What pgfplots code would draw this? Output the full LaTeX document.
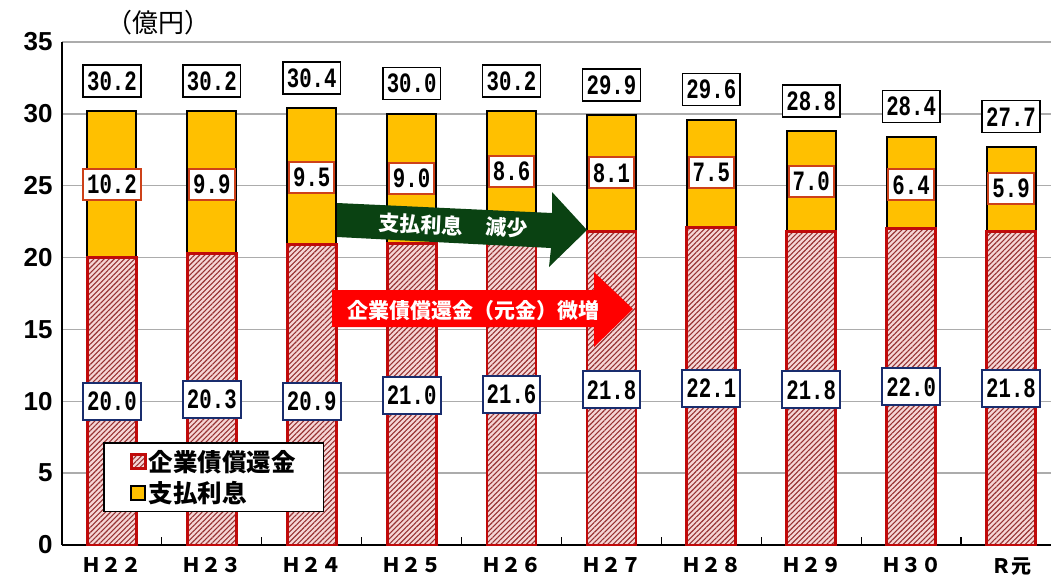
\documentclass[border=0pt]{standalone}
\usepackage{fontspec}
\setmainfont{Liberation Sans}
\newfontfamily\jp{Noto Sans CJK JP}
\newfontfamily\num{Liberation Mono}[FakeStretch=0.74]
\usepackage{pgfplots}
\usepackage{pgfplotstable}
\pgfplotsset{compat=1.18}
\usetikzlibrary{patterns.meta}

\definecolor{barY}{RGB}{255,192,0}
\definecolor{barR}{RGB}{192,10,10}
\definecolor{pinkbg}{RGB}{246,214,214}
\definecolor{hatch}{RGB}{150,50,50}
\definecolor{intBox}{RGB}{205,65,25}
\definecolor{prinBox}{RGB}{25,45,110}
\definecolor{arrG}{RGB}{10,66,18}

% label positions (centre of each box) and texts
\pgfplotstableread{
x ytot ltot yint lint yprin lprin
0 32.3 30.2 25.10 10.2 10.00 20.0
1 32.3 30.2 25.10 9.9  10.15 20.3
2 32.5 30.4 25.60 9.5  10.00 20.9
3 32.1 30.0 25.50 9.0  10.40 21.0
4 32.3 30.2 26.00 8.6  10.50 21.6
5 32.0 29.9 25.90 8.1  10.80 21.8
6 31.7 29.6 25.90 7.5  10.90 22.1
7 30.9 28.8 25.30 7.0  10.80 21.8
8 30.5 28.4 25.05 6.4  11.00 22.0
9 29.8 27.7 24.80 5.9  10.90 21.8
}\labels

\begin{document}
\begin{tikzpicture}
\begin{axis}[
  scale only axis, width=989pt, height=503pt,
  xmin=-0.5, xmax=9.4, ymin=0, ymax=35,
  ybar stacked, bar width=49pt,
  axis x line*=bottom, axis y line*=left,
  axis line style={black, line width=2.2pt},
  xtick={0,...,9},
  xticklabels={Ｈ２２,Ｈ２３,Ｈ２４,Ｈ２５,Ｈ２６,Ｈ２７,Ｈ２８,Ｈ２９,Ｈ３０,Ｒ元},
  minor xtick={0.5,1.5,...,8.5},
  ytick={0,5,...,35},
  major tick length=0pt, minor tick length=8pt, tick align=inside,
  minor tick style={black, line width=1.2pt},
  ymajorgrids, grid style={color=gray!65, line width=1.5pt},
  /pgf/number format/assume math mode=true,
  x tick label style={font=\jp\bfseries\fontsize{20}{21}\selectfont, yshift=-9pt},
  y tick label style={font=\bfseries\fontsize{26}{28}\selectfont, xshift=-6pt},
  clip=false,
  legend cell align=left,
  legend image code/.code={\draw[#1] (0pt,-7pt) rectangle (14pt,7pt);},
  legend style={at={(0.0415,0.0656)}, anchor=south west, draw=black,
    line width=1.5pt, fill=white, font=\jp\bfseries\fontsize{24.5}{26}\selectfont,
    inner xsep=26pt, inner ysep=5pt, row sep=5pt,
    /tikz/every even column/.append style={column sep=4pt}},
]
\addplot[fill=pinkbg, draw=barR, line width=2.8pt,
  postaction={pattern={Lines[angle=45,distance=3.6pt,line width=1.1pt]}, pattern color=hatch}]
  coordinates {(0,20.0) (1,20.3) (2,20.9) (3,21.0) (4,21.6) (5,21.8) (6,22.1) (7,21.8) (8,22.0) (9,21.8)};
\addplot[fill=barY, draw=black, line width=2pt]
  coordinates {(0,10.2) (1,9.9) (2,9.5) (3,9.0) (4,8.6) (5,8.1) (6,7.5) (7,7.0) (8,6.4) (9,5.9)};
\legend{企業債償還金, 支払利息}
\coordinate (O) at (axis cs:-0.5,0);
\end{axis}

\begin{axis}[
  scale only axis, width=989pt, height=503pt,
  xmin=-0.5, xmax=9.4, ymin=0, ymax=35,
  hide axis, clip=false,
  point meta=explicit symbolic,
]
\addplot[only marks, mark=none, nodes near coords,
  every node near coord/.append style={anchor=center, font=\num\bfseries\fontsize{28}{30}\selectfont,
    draw=black, line width=1.5pt, fill=white, inner xsep=4pt, inner ysep=2pt, minimum height=32pt}]
  table[x=x, y=ytot, meta=ltot] {\labels};
\addplot[only marks, mark=none, nodes near coords,
  every node near coord/.append style={anchor=center, font=\num\bfseries\fontsize{28}{30}\selectfont,
    draw=intBox, line width=2pt, fill=white, inner xsep=4pt, inner ysep=2pt, minimum height=31pt}]
  table[x=x, y=yint, meta=lint] {\labels};
\addplot[only marks, mark=none, nodes near coords,
  every node near coord/.append style={anchor=center, font=\num\bfseries\fontsize{28}{30}\selectfont,
    draw=prinBox, line width=2pt, fill=white, inner xsep=4pt, inner ysep=2pt, minimum height=37pt}]
  table[x=x, y=yprin, meta=lprin] {\labels};
\end{axis}

\begin{scope}[shift={(O)}, xshift=-62pt, yshift=545pt, x=1pt, y=-1pt]
  \fill[arrG] (337,203) -- (552,213) -- (552,192) -- (587,230) -- (549,267) -- (551,248) -- (337,237) -- cycle;
  \node[rotate=-2.7, text=white, font=\jp\bfseries\fontsize{21}{22}\selectfont] at (421,224) {支払利息};
  \node[rotate=-2.7, text=white, font=\jp\bfseries\fontsize{21}{22}\selectfont] at (507,228) {減少};
  \fill[red] (332,290) -- (594,290) -- (594,272) -- (633,309) -- (594,347) -- (594,327) -- (332,327) -- cycle;
  \node[text=white, font=\jp\bfseries\fontsize{21}{22}\selectfont] at (473,311) {企業債償還金（元金）微増};
  \node[font=\jp\fontsize{26}{28}\selectfont] at (158,23) {（億円）};
  \pgfresetboundingbox
  \path[use as bounding box] (0,0) rectangle (1051,582);
\end{scope}
\end{tikzpicture}
\end{document}
